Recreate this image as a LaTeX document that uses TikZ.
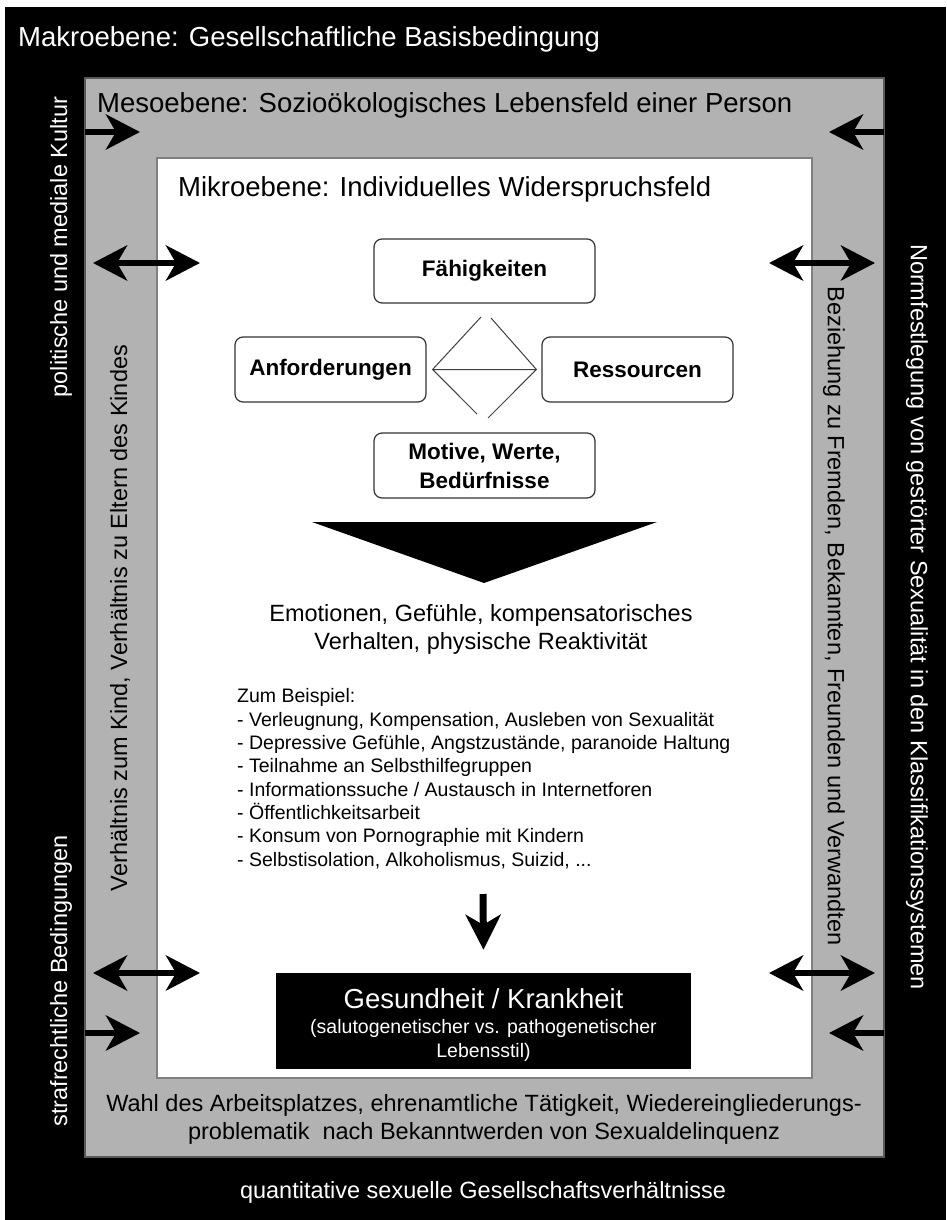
\documentclass[tikz,border=0pt]{standalone}
\usepackage{fontspec}
\setmainfont{Liberation Sans}
\usetikzlibrary{arrows.meta}
\definecolor{mygray}{gray}{0.70}
\definecolor{myedge}{gray}{0.35}
\definecolor{myline}{gray}{0.50}
\tikzset{
  bigtext/.style={font=\fontsize{27.5}{33}\selectfont,inner sep=0pt},
  midtext/.style={font=\fontsize{23.5}{28}\selectfont,inner sep=0pt},
  smalltext/.style={font=\fontsize{19.5}{23.3}\selectfont,inner sep=0pt},
  roundbox/.style={draw=black!80,line width=1.2pt,rounded corners=8pt,fill=white,
    font=\bfseries\fontsize{22.5}{29}\selectfont,align=center},
  fatarrow/.style={line width=6pt,-{Stealth[length=34pt,width=35pt,inset=10pt]}},
  twoarrow/.style={line width=6pt,{Stealth[length=34pt,width=35pt,inset=10pt]}-{Stealth[length=34pt,width=35pt,inset=10pt]}},
}

\begin{document}
\begin{tikzpicture}[x=1pt,y=-1pt]
\useasboundingbox (0,0) rectangle (946,1220);
\fill[white] (0,0) rectangle (946,1220);
\fill[black] (5,7) rectangle (946,1220);
\draw[myedge,fill=mygray,line width=1.5pt] (85,78) rectangle (884,1157);
\draw[myline,fill=white,line width=1.5pt] (157,158) rectangle (812,1078);

% Ebenen
\node[bigtext,white,anchor=base west] (makro) at (18,47) {Makroebene: Gesellschaftliche Basisbedingung};
\node[bigtext,anchor=base west] (meso) at (97,113) {Mesoebene: Sozioökologisches Lebensfeld einer Person};
\node[bigtext,anchor=base west] (mikro) at (178,196) {Mikroebene: Individuelles Widerspruchsfeld};

% seitliche Texte
\node[midtext,white,rotate=90] (kultur) at (61,247) {politische und mediale Kultur};
\node[midtext,white,rotate=90] (straf) at (61,981) {strafrechtliche Bedingungen};
\node[midtext,rotate=90] (kind) at (120,618) {Verhältnis zum Kind, Verhältnis zu Eltern des Kindes};
\node[midtext,rotate=-90] (bezieh) at (834,616) {Beziehung zu Fremden, Bekannten, Freunden und Verwandten};
\node[midtext,white,rotate=-90] (norm) at (917,617) {Normfestlegung von gestörter Sexualität in den Klassifikationssystemen};

% Kasten
\node[roundbox,minimum width=221pt,minimum height=64pt] (faeh) at (484.5,271) {Fähigkeiten};
\node[roundbox,minimum width=191pt,minimum height=65pt] (anf) at (330.5,369.5) {Anforderungen};
\node[roundbox,minimum width=191pt,minimum height=65pt] (ress) at (637.5,369.5) {Ressourcen};
\node[roundbox,minimum width=221pt,minimum height=65pt] (motiv) at (484.5,465.5) {Motive, Werte,\\Bedürfnisse};

\coordinate (dl) at ([xshift=6pt]anf.east);
\coordinate (dr) at ([xshift=-5pt]ress.west);
\coordinate (dlt) at (481,317);
\coordinate (dlb) at (477,414);
\coordinate (drt) at (491,318);
\coordinate (drb) at (488,418);
\draw[black!75,line width=1pt] (dlt) -- (dl) -- (dlb) (drt) -- (dr) -- (drb) (dl) -- (dr);

\fill[black] (312,522) -- (657,522) -- (484,583) -- cycle;

\node[midtext,align=center,anchor=base] (emo) at (481,649) {Emotionen, Gefühle, kompensatorisches\\Verhalten, physische Reaktivität};
\node[smalltext,align=left,anchor=base west] (bsp) at (237,866) {Zum Beispiel:\\
- Verleugnung, Kompensation, Ausleben von Sexualität\\
- Depressive Gefühle, Angstzustände, paranoide Haltung\\
- Teilnahme an Selbsthilfegruppen\\
- Informationssuche / Austausch in Internetforen\\
- Öffentlichkeitsarbeit\\
- Konsum von Pornographie mit Kindern\\
- Selbstisolation, Alkoholismus, Suizid, ...};

\node[fill=black,minimum width=415pt,minimum height=96pt,inner sep=0pt] (gesund) at (483.5,1021) {};
\node[bigtext,white,anchor=base] (gesundtitle) at (483.5,1008) {Gesundheit / Krankheit};
\node[smalltext,white,align=center,anchor=base,font=\fontsize{19.5}{24}\selectfont] (gesundsub) at (483.5,1057) {(salutogenetischer vs. pathogenetischer\\Lebensstil)};

\coordinate (dtop) at (483,894);
\draw[line width=7pt,-{Stealth[length=35pt,width=35pt,inset=10pt]}] (dtop) -- ([yshift=23pt]gesund.north);

\node[midtext,align=center,anchor=base] (wahl) at (484,1139) {Wahl des Arbeitsplatzes, ehrenamtliche Tätigkeit, Wiedereingliederungs-\\problematik\ \ nach Bekanntwerden von Sexualdelinquenz};
\node[midtext,white,anchor=base] (quant) at (483,1198) {quantitative sexuelle Gesellschaftsverhältnisse};

% Pfeile
\coordinate (ml1) at (85,132);
\coordinate (ml2) at (140,132);
\coordinate (mr1) at (884,132);
\coordinate (mr2) at (829,132);
\coordinate (ul1) at (85,1033);
\coordinate (ul2) at (140,1033);
\coordinate (ur1) at (884,1033);
\coordinate (ur2) at (829,1033);
\draw[fatarrow] (ml1) -- (ml2);
\draw[fatarrow] (mr1) -- (mr2);
\draw[fatarrow] (ul1) -- (ul2);
\draw[fatarrow] (ur1) -- (ur2);
\coordinate (al1) at (93,263);
\coordinate (al2) at (200,263);
\coordinate (ar1) at (769,263);
\coordinate (ar2) at (875,263);
\coordinate (bl1) at (93,973);
\coordinate (bl2) at (200,973);
\coordinate (br1) at (769,973);
\coordinate (br2) at (875,973);
\draw[twoarrow] (al1) -- (al2);
\draw[twoarrow] (ar1) -- (ar2);
\draw[twoarrow] (bl1) -- (bl2);
\draw[twoarrow] (br1) -- (br2);
\end{tikzpicture}
\end{document}
